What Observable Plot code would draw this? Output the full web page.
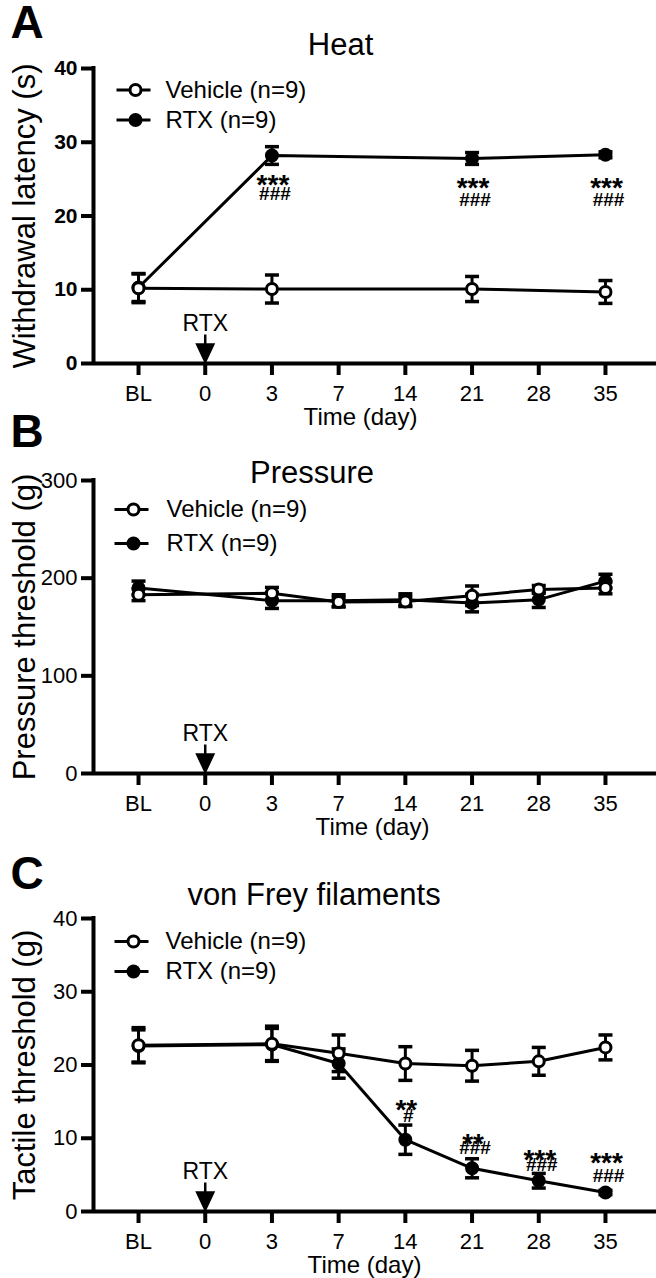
<!DOCTYPE html>
<html><head><meta charset="utf-8">
<script src="https://cdn.jsdelivr.net/npm/d3@7"></script>
<script src="https://cdn.jsdelivr.net/npm/@observablehq/plot@0.6"></script>
<style>
html,body{margin:0;padding:0;background:#fff;overflow:hidden;}
#wrap{position:relative;width:656px;height:1278px;overflow:hidden;background:#fff;}
.panel{position:absolute;left:0;}
</style></head><body><div id="wrap"></div>
<script>
// ---------- categories ----------
const days = ["BL","0","3","7","14","21","28","35"];
const legendVehicle = "Vehicle (n=9)";
const legendRtx = "RTX (n=9)";

// ---------- Panel A: Heat ----------
const heatDays = ["BL","3","21","35"];
const heatVehicleMean = [10.2, 10.1, 10.1, 9.7];
const heatVehicleSem  = [1.95, 1.9, 1.7, 1.55];
const heatRtxMean     = [10.3, 28.2, 27.8, 28.3];
const heatRtxSem      = [1.9, 1.2, 0.8, 0.4];
const heatTicks = [0, 10, 20, 30, 40];
const heatSigDays  = ["3","21","35"];
const heatStars    = ["***","***","***"];
const heatStarsAt  = [25.1, 24.8, 24.8];
const heatHashes   = ["###","###","###"];
const heatHashesAt = [23.0, 22.2, 22.2];

// ---------- Panel B: Pressure ----------
const pressDays = ["BL","3","7","14","21","28","35"];
const pressVehicleMean = [183, 184.5, 175.5, 176, 182, 188.5, 190];
const pressVehicleSem  = [6, 6, 5, 5, 10, 4, 6];
const pressRtxMean     = [190, 177, 177, 178, 174.5, 178, 197];
const pressRtxSem      = [7, 8, 6, 6, 9, 8, 7];
const pressTicks = [0, 100, 200, 300];

// ---------- Panel C: von Frey ----------
const vfDays = ["BL","3","7","14","21","28","35"];
const vfVehicleMean = [22.7, 22.9, 21.6, 20.2, 19.9, 20.5, 22.4];
const vfVehicleSem  = [2.4, 2.4, 2.5, 2.3, 2.1, 1.9, 1.7];
const vfRtxMean     = [22.6, 22.8, 20.2, 9.8, 5.9, 4.2, 2.6];
const vfRtxSem      = [2.2, 2.2, 2.0, 2.0, 1.3, 1.0, 0.3];
const vfTicks = [0, 10, 20, 30, 40];
const vfSigDays  = ["14","21","28","35"];
const vfStars    = ["**","**","***","***"];
const vfStarsAt  = [14.8, 10.1, 8.0, 7.6];
const vfHashes   = ["#","###","###","###"];
const vfHashesAt = [13.1, 8.7, 6.3, 4.9];

const injectionDay = "0";
const injectionLabel = "RTX";

// ---------- drawing ----------
const W = 656;
const X_MIN = -0.675, X_MAX = 7.765;
const dayIndex = d => days.indexOf(d);
const FONT = "'Liberation Sans', Arial, Helvetica, sans-serif";

const capSymbol = {draw(ctx){ ctx.moveTo(-7,0); ctx.lineTo(7,0); }};
const legendLine = {draw(ctx){ ctx.moveTo(-17,0); ctx.lineTo(17,0); }};
const arrowSymbol = {draw(ctx){
  ctx.moveTo(0,-29); ctx.lineTo(0,-19);
  ctx.moveTo(-8,-19); ctx.lineTo(8,-19); ctx.lineTo(0,-2); ctx.closePath();
}};

function seriesMarks(dArr, mean, sem, filled){
  const rows = dArr.map((d,i)=>({x: dayIndex(d), y: mean[i], lo: mean[i]-sem[i], hi: mean[i]+sem[i]}));
  return [
    Plot.line(rows, {x:"x", y:"y", stroke:"black", strokeWidth:3}),
    Plot.ruleX(rows, {x:"x", y1:"lo", y2:"hi", stroke:"black", strokeWidth:3}),
    Plot.dot(rows, {x:"x", y:"hi", symbol:capSymbol, fill:"none", stroke:"black", strokeWidth:3.5}),
    Plot.dot(rows, {x:"x", y:"lo", symbol:capSymbol, fill:"none", stroke:"black", strokeWidth:3.5}),
    Plot.dot(rows, {x:"x", y:"y", r:5.5, fill: filled ? "black" : "white", stroke:"black", strokeWidth:3})
  ];
}

function legendMarks(lx, ly1, ly2, tx){
  const m = [];
  [[ly1, false, legendVehicle],[ly2, true, legendRtx]].forEach(([dy, filled, label])=>{
    m.push(Plot.dot([label], {frameAnchor:"top-left", dx:lx, dy, symbol:legendLine, fill:"none", stroke:"black", strokeWidth:3}));
    m.push(Plot.dot([label], {frameAnchor:"top-left", dx:lx+2, dy, r:5.5, fill: filled?"black":"white", stroke:"black", strokeWidth:3}));
    m.push(Plot.text([label], {frameAnchor:"top-left", dx:tx, dy, text:d=>d, textAnchor:"start", lineAnchor:"middle", fontSize:24, fill:"black"}));
  });
  return m;
}

function sigMarks(sd, stars, starsAt, hashes, hashesAt){
  const s = sd.map((d,i)=>({x: dayIndex(d), y: starsAt[i], t: stars[i]}));
  const h = sd.map((d,i)=>({x: dayIndex(d), y: hashesAt[i], t: hashes[i]}));
  return [
    Plot.text(s, {x:"x", y:"y", text:"t", fontSize:28, fontWeight:"bold", dx:1, dy:7, lineAnchor:"middle", fill:"black"}),
    Plot.text(h, {x:"x", y:"y", text:"t", fontSize:19, fontWeight:"bold", dx:3, lineAnchor:"middle", fill:"black"})
  ];
}

function panel(cfg){
  const yMax = cfg.ticks[cfg.ticks.length-1];
  const marks = [
    Plot.ruleX([X_MIN], {x:d=>d, y1:0, y2:yMax, stroke:"black", strokeWidth:4, strokeLinecap:"square"}),
    Plot.ruleY([0], {y:d=>d, x1:X_MIN, x2:X_MAX, stroke:"black", strokeWidth:4}),
    Plot.axisY({ticks: cfg.ticks, tickSize:12, tickPadding:4, strokeWidth:4, fontSize: cfg.yBold ? 21 : 22,
      fontWeight: cfg.yBold ? "bold" : "normal", label:null, fill:"black", stroke:"black"}),
    Plot.axisX({ticks: d3.range(days.length), tickFormat: i => days[i], tickSize:12, tickPadding:10,
      strokeWidth:4, fontSize:22, label:null, fill:"black", stroke:"black"}),
    ...seriesMarks(cfg.d, cfg.rMean, cfg.rSem, true),
    ...seriesMarks(cfg.d, cfg.vMean, cfg.vSem, false),
    ...(cfg.sig || []),
    Plot.dot([injectionDay], {x: d=>dayIndex(d), y: 0, symbol: arrowSymbol, fill:"black", stroke:"black", strokeWidth:2.5}),
    Plot.text([injectionLabel], {x: ()=>dayIndex(injectionDay), y: 0, text:d=>d, dy:-40, fontSize:23, lineAnchor:"middle", fill:"black"}),
    ...legendMarks(cfg.legend[0], cfg.legend[1], cfg.legend[2], cfg.legend[3]),
    Plot.text([cfg.title], {frameAnchor:"top", dx:cfg.titlePos[0], dy:cfg.titlePos[1], text:d=>d, fontSize:31, textAnchor:"middle", lineAnchor:"middle", fill:"black"}),
    Plot.text([cfg.letter], {frameAnchor:"top-left", dx:-83, dy:cfg.letterDy, text:d=>d, fontSize:46, fontWeight:"bold", textAnchor:"start", lineAnchor:"middle", fill:"black"}),
    Plot.text([cfg.yLabel], {frameAnchor:"left", dx:-68, rotate:-90, text:d=>d, fontSize:31, textAnchor:"middle", lineAnchor:"middle", fill:"black"}),
    Plot.text(["Time (day)"], {frameAnchor:"bottom", dx:cfg.xLabelDx, dy:54, text:d=>d, fontSize:24, textAnchor:"middle", lineAnchor:"middle", fill:"black"})
  ];
  const svg = Plot.plot({
    width: W, height: cfg.height,
    marginLeft: 93, marginRight: 0, marginTop: cfg.mt, marginBottom: cfg.mb,
    x: {type:"linear", domain:[X_MIN, X_MAX]},
    y: {type:"linear", domain:[0, yMax]},
    style: {fontFamily: FONT, background:"transparent", overflow:"visible", color:"black"},
    marks
  });
  svg.classList.add("panel");
  svg.style.top = cfg.top + "px";
  document.getElementById("wrap").appendChild(svg);
}

panel({top:0, height:430, mt:68, mb:67, ticks:heatTicks, yBold:true,
  d:heatDays, vMean:heatVehicleMean, vSem:heatVehicleSem, rMean:heatRtxMean, rSem:heatRtxSem,
  sig: sigMarks(heatSigDays, heatStars, heatStarsAt, heatHashes, heatHashesAt),
  legend:[40, 21.5, 51.5, 72], title:"Heat", titlePos:[-34.5, -23], letter:"A", letterDy:-45,
  yLabel:"Withdrawal latency (s)", xLabelDx:-14.5});

panel({top:420, height:430, mt:60, mb:77, ticks:pressTicks, yBold:false,
  d:pressDays, vMean:pressVehicleMean, vSem:pressVehicleSem, rMean:pressRtxMean, rSem:pressRtxSem,
  sig: [],
  legend:[38, 29, 63, 73], title:"Pressure", titlePos:[-63, -7], letter:"B", letterDy:-48,
  yLabel:"Pressure threshold (g)", xLabelDx:-2.5});

panel({top:850, height:428, mt:68, mb:67, ticks:vfTicks, yBold:false,
  d:vfDays, vMean:vfVehicleMean, vSem:vfVehicleSem, rMean:vfRtxMean, rSem:vfRtxSem,
  sig: sigMarks(vfSigDays, vfStars, vfStarsAt, vfHashes, vfHashesAt),
  legend:[38, 23, 53, 72], title:"von Frey filaments", titlePos:[-61, -23], letter:"C", letterDy:-44,
  yLabel:"Tactile threshold (g)", xLabelDx:-10.5});
</script></body></html>
